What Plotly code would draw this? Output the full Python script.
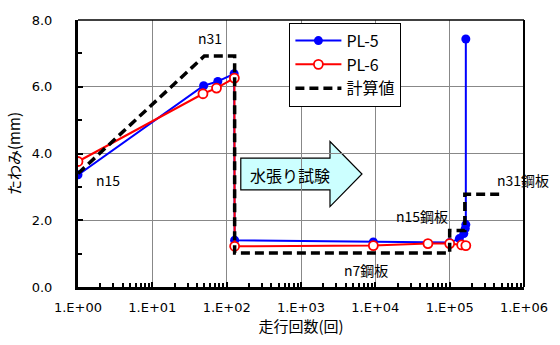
import plotly.graph_objects as go

# Measured deflection vs. number of passes
pl5_x = [1, 49, 76, 126, 128, 9400, 1.0e5, 1.35e5, 1.55e5, 1.62e5, 1.65e5, 1.65e5]
pl5_y = [3.36, 6.03, 6.16, 6.39, 1.40, 1.35, 1.33, 1.45, 1.60, 1.75, 1.87, 7.43]

pl6_x = [1, 48, 73, 127, 128, 9400, 5.1e4, 1.0e5, 1.45e5, 1.65e5]
pl6_y = [3.76, 5.79, 5.96, 6.26, 1.22, 1.24, 1.30, 1.30, 1.26, 1.24]

calc_x = [1, 50, 128, 128, 1.0e5, 1.0e5, 1.6e5, 1.6e5, 5.1e5]
calc_y = [3.40, 6.92, 6.92, 1.02, 1.02, 1.69, 1.69, 2.78, 2.78]

x_tickvals = [1, 10, 100, 1e3, 1e4, 1e5, 1e6]
x_ticktext = ["1.E+00", "1.E+01", "1.E+02", "1.E+03", "1.E+04", "1.E+05", "1.E+06"]
x_minor = [m * 10 ** d for d in range(6) for m in range(2, 10)]

LAT = "DejaVu Sans, Noto Sans CJK JP"
JP = "Noto Sans CJK JP, DejaVu Sans"

fig = go.Figure()
fig.add_trace(go.Scatter(
    x=pl5_x, y=pl5_y, name="PL-5", mode="lines+markers",
    line=dict(color="#0000ff", width=2),
    marker=dict(symbol="circle", size=9, color="#0000ff"),
))
fig.add_trace(go.Scatter(
    x=pl6_x, y=pl6_y, name="PL-6", mode="lines+markers",
    line=dict(color="#ff0000", width=2),
    marker=dict(symbol="circle", size=9, color="white",
                line=dict(color="#ff0000", width=1.8)),
))
fig.add_trace(go.Scatter(
    x=calc_x, y=calc_y, name="計算値", mode="lines",
    line=dict(color="black", width=3.5, dash="9px,5px"),
))

# Arrow marking the water-filling test, drawn in paper coordinates
def px(lg):
    return lg / 6.0

def py(v):
    return v / 8.0

arrow = [
    (px(2.19), py(3.86)), (px(3.39), py(3.86)), (px(3.39), py(4.36)),
    (px(3.82), py(3.385)), (px(3.39), py(2.41)), (px(3.39), py(2.91)),
    (px(2.19), py(2.91)),
]
path = "M " + " L ".join(f"{a:.4f},{b:.4f}" for a, b in arrow) + " Z"
fig.add_shape(type="path", path=path, xref="paper", yref="paper",
              fillcolor="#ccffff", line=dict(color="black", width=1.2), layer="below")

# Thin frame on top and right
fig.add_shape(type="line", xref="paper", yref="paper", x0=0, x1=1, y0=1, y1=1,
              line=dict(color="black", width=1.5))
fig.add_shape(type="line", xref="paper", yref="paper", x0=1, x1=1, y0=0, y1=1,
              line=dict(color="black", width=2))

fig.add_annotation(x=2.85, y=3.37, xref="x", yref="y", text="水張り試験",
                   showarrow=False, font=dict(family=JP, size=16, color="black"))

labels = [
    (1.78, 7.46, "n31"),
    (0.41, 3.21, "n15"),
    (4.63, 2.14, "n15鋼板"),
    (5.985, 3.21, "n31鋼板"),
    (3.87, 0.52, "n7鋼板"),
]
for lx, ly, t in labels:
    fig.add_annotation(x=lx, y=ly, xref="x", yref="y", text=t, showarrow=False,
                       font=dict(family=JP, size=14, color="black"))

fig.update_layout(
    width=560, height=345,
    margin=dict(l=77.5, r=33, t=20, b=57.5),
    paper_bgcolor="white", plot_bgcolor="white",
    font=dict(family=LAT, size=13, color="black"),
    showlegend=True,
    legend=dict(x=0.474, y=0.99, xanchor="left", yanchor="top",
                bgcolor="white", bordercolor="black", borderwidth=1,
                font=dict(family=JP, size=16, color="black"),
                itemwidth=46, tracegroupgap=0),
    xaxis=dict(
        type="log", range=[0, 6],
        tickmode="array", tickvals=x_tickvals, ticktext=x_ticktext,
        ticks="inside", ticklen=5, tickwidth=1.5, tickcolor="black",
        showgrid=True, gridcolor="#888888", gridwidth=1,
        showline=True, linecolor="black", linewidth=3,
        ticklabelstandoff=6,
        minor=dict(tickmode="array", tickvals=x_minor, ticks="inside",
                   ticklen=4, tickwidth=1.5, tickcolor="black", showgrid=False),
        title=dict(text="走行回数(回)", font=dict(family=JP, size=15), standoff=8),
        zeroline=False,
    ),
    yaxis=dict(
        range=[0, 8], dtick=2, tickformat=".1f",
        ticks="inside", ticklen=5, tickwidth=1.5, tickcolor="black",
        showgrid=True, gridcolor="#888888", gridwidth=1,
        showline=True, linecolor="black", linewidth=3,
        ticklabelstandoff=20,
        minor=dict(dtick=1, ticks="inside", ticklen=4, tickwidth=1.5,
                   tickcolor="black", showgrid=False),
        title=dict(text="たわみ(mm)", font=dict(family=JP, size=15), standoff=8),
        zeroline=False,
    ),
)

fig.write_html("out.html")
